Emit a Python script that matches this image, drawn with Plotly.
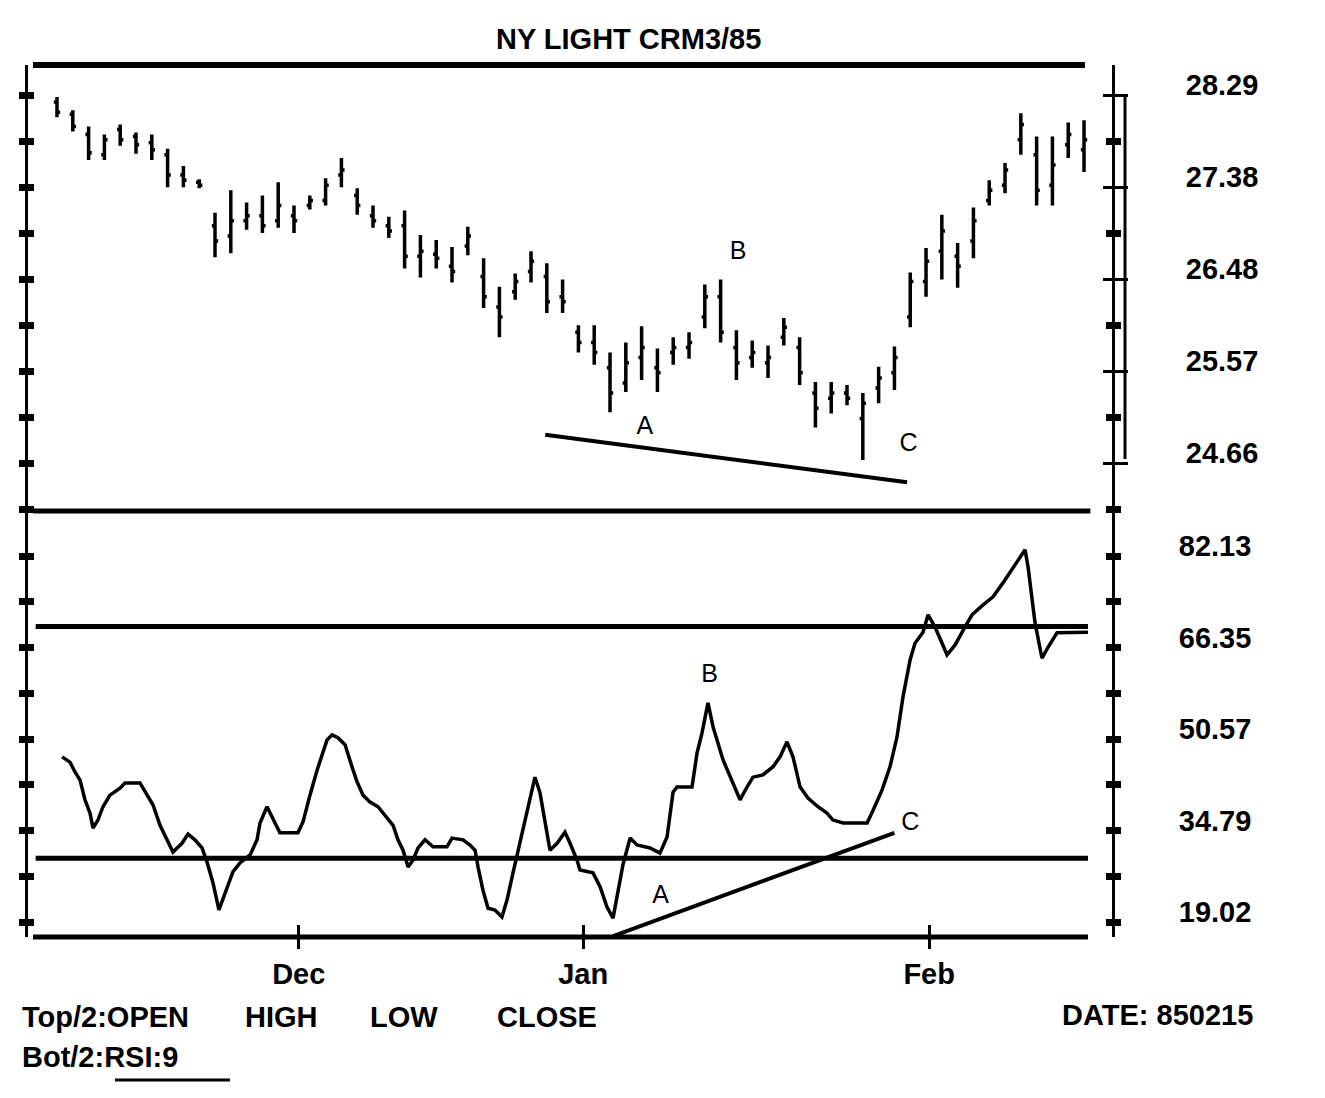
import plotly.graph_objects as go

TITLE = "NY LIGHT CRM3/85"

# ---- daily price bars (trading-day index 0..65) ----
HIGH = [28.27, 28.14, 27.98, 27.90, 28.00, 27.92, 27.90, 27.76, 27.59, 27.46,
        27.13, 27.35, 27.23, 27.30, 27.43, 27.20, 27.30, 27.47, 27.67, 27.37,
        27.20, 27.09, 27.15, 26.91, 26.86, 26.79, 26.99, 26.68, 26.40, 26.53,
        26.75, 26.63, 26.47, 26.02, 26.02, 25.75, 25.85, 26.01, 25.79, 25.90,
        25.95, 26.42, 26.47, 25.97, 25.87, 25.82, 26.09, 25.90, 25.46, 25.46,
        25.43, 25.35, 25.61, 25.81, 26.54, 26.78, 27.11, 26.83, 27.18, 27.45,
        27.62, 28.11, 27.88, 27.88, 28.02, 28.04]
LOW = [28.07, 27.93, 27.65, 27.65, 27.79, 27.71, 27.65, 27.38, 27.38, 27.37,
       26.69, 26.73, 26.96, 26.93, 26.98, 26.93, 27.16, 27.20, 27.38, 27.11,
       26.98, 26.88, 26.58, 26.49, 26.58, 26.44, 26.71, 26.19, 25.90, 26.27,
       26.44, 26.14, 26.14, 25.75, 25.63, 25.16, 25.36, 25.48, 25.36, 25.63,
       25.69, 25.99, 25.85, 25.48, 25.60, 25.50, 25.82, 25.43, 25.01, 25.15,
       25.23, 24.69, 25.25, 25.38, 26.00, 26.30, 26.47, 26.39, 26.68, 27.20,
       27.32, 27.70, 27.20, 27.20, 27.67, 27.53]
OPEN = [28.22, 28.10, 27.90, 27.70, 27.95, 27.88, 27.82, 27.70, 27.50, 27.43,
        27.00, 26.90, 27.05, 27.10, 27.05, 27.10, 27.20, 27.25, 27.50, 27.30,
        27.10, 27.00, 27.00, 26.70, 26.72, 26.60, 26.80, 26.50, 26.20, 26.35,
        26.55, 26.50, 26.30, 25.95, 25.85, 25.60, 25.45, 25.70, 25.60, 25.75,
        25.80, 26.10, 26.30, 25.80, 25.70, 25.65, 25.90, 25.80, 25.35, 25.30,
        25.35, 25.10, 25.40, 25.55, 26.10, 26.45, 26.75, 26.70, 26.85, 27.25,
        27.40, 27.85, 27.70, 27.40, 27.80, 27.75]
CLOSE = [28.12, 27.98, 27.72, 27.85, 27.85, 27.80, 27.75, 27.50, 27.45, 27.40,
         26.85, 27.05, 27.10, 27.00, 27.20, 27.05, 27.25, 27.40, 27.55, 27.20,
         27.05, 26.95, 26.70, 26.75, 26.68, 26.55, 26.90, 26.30, 26.10, 26.45,
         26.65, 26.25, 26.25, 25.85, 25.75, 25.35, 25.65, 25.80, 25.55, 25.80,
         25.85, 26.30, 25.95, 25.65, 25.75, 25.70, 26.00, 25.55, 25.20, 25.35,
         25.30, 25.25, 25.50, 25.70, 26.45, 26.65, 26.95, 26.60, 27.05, 27.35,
         27.55, 28.00, 27.35, 27.60, 27.90, 27.85]
BAR_X = list(range(len(HIGH)))

# ---- RSI(9) line (x in trading-day units) ----
RSI_X = [0.32, 0.82, 1.14, 1.46, 1.77, 2.09, 2.28, 2.59, 2.91, 3.35, 3.99, 4.30,
         5.25, 5.70, 6.08, 6.52, 6.96, 7.34, 7.91, 8.29, 8.73, 9.18, 9.49, 9.87,
         10.25, 10.63, 11.14, 11.58, 12.22, 12.66, 12.85, 13.29, 13.67, 14.11,
         15.25, 15.57, 16.01, 16.46, 17.09, 17.41, 17.78, 18.23, 18.67, 18.99,
         19.37, 19.81, 20.32, 20.89, 21.27, 21.58, 21.90, 22.22, 22.53, 22.85,
         23.29, 23.80, 24.68, 25.00, 25.70, 26.14, 26.46, 26.65, 26.96, 27.28,
         27.72, 28.16, 28.48, 28.86, 29.18, 29.49, 29.94, 30.25, 30.57, 30.89,
         31.20, 31.65, 32.15, 32.47, 32.91, 33.10, 33.92, 34.37, 34.81, 35.19,
         35.51, 35.82, 36.27, 36.71, 37.53, 38.16, 38.61, 38.99, 39.24, 40.19,
         40.51, 40.82, 41.20, 41.52, 42.15, 42.78, 43.23, 43.67, 44.05, 44.68,
         45.32, 45.76, 46.20, 46.58, 47.03, 47.53, 48.16, 48.73, 49.11, 49.75,
         51.27, 51.65, 52.22, 52.72, 53.16, 53.54, 53.99, 54.30, 54.81, 55.13,
         55.57, 56.33, 56.84, 57.47, 57.91, 58.61, 59.24, 59.87, 60.51, 61.27,
         61.46, 61.71, 61.90, 62.34, 62.72, 63.29, 65.25]
RSI_Y = [47.5, 46.6, 44.9, 43.5, 40.1, 37.8, 35.2, 36.6, 38.9, 40.9, 42.1, 43.0,
         43.0, 40.9, 39.2, 35.7, 33.2, 31.1, 32.6, 34.2, 33.2, 31.8, 29.4, 25.8,
         21.1, 24.0, 27.7, 29.2, 30.6, 33.2, 36.1, 38.9, 36.9, 34.4,
         34.4, 36.3, 40.9, 45.2, 50.4, 51.3, 50.8, 49.6, 45.8, 43.2,
         40.9, 39.7, 38.9, 37.1, 35.7, 33.2, 31.4, 28.5, 29.7, 31.8,
         33.2, 32.0, 32.0, 33.5, 33.2, 32.3, 31.4, 28.5, 24.5, 21.4,
         21.1, 19.9, 22.8, 27.5, 31.4, 35.4, 40.6, 44.0, 41.3, 36.1,
         31.4, 32.6, 34.5, 32.6, 29.7, 28.0, 27.5, 25.1, 21.6, 19.7,
         24.0, 28.9, 33.5, 32.3, 31.8, 30.9, 33.7, 41.4, 42.3, 42.3,
         48.2, 51.6, 56.8, 52.7, 47.0, 43.0, 40.1, 42.3, 44.0, 44.4,
         45.8, 47.5, 50.1, 47.5, 42.3, 40.4, 38.9, 37.8, 36.6, 36.1,
         36.1, 38.3, 41.8, 45.8, 50.9, 57.8, 64.2, 67.1, 69.0, 72.0,
         69.9, 65.1, 66.8, 69.9, 72.0, 73.7, 75.1, 77.5, 80.2, 83.2,
         80.2, 74.5, 70.6, 64.5, 66.4, 68.9, 69.0]
RSI_LEVELS = [70, 30]

# ---- trend lines and labels ----
PRICE_TREND_X = [30.9, 53.8]
PRICE_TREND_Y = [24.94, 24.47]
RSI_TREND_X = [35.2, 53.0]
RSI_TREND_Y = [16.6, 34.4]
PRICE_LABEL_TEXT = ["A", "B", "C"]
PRICE_LABEL_X = [37.2, 43.1, 53.9]
PRICE_LABEL_Y = [25.01, 26.73, 24.84]
RSI_LABEL_TEXT = ["A", "B", "C"]
RSI_LABEL_X = [38.2, 41.3, 54.0]
RSI_LABEL_Y = [23.3, 61.4, 35.9]

# ---- axes ----
MONTH_TICKS = [15.3, 33.3, 55.2]
MONTH_LABELS = ["Dec", "Jan", "Feb"]
PRICE_TICKS = [28.29, 27.3825, 26.475, 25.5675, 24.66]
PRICE_LABELS = ["28.29", "27.38", "26.48", "25.57", "24.66"]
PRICE_MINOR = [27.836, 26.929, 26.021, 25.114, 24.206]
RSI_TICKS = [82.13, 74.24, 66.35, 58.46, 50.57, 42.68, 34.79, 26.90, 19.02]
RSI_LABELS = ["82.13", "", "66.35", "", "50.57", "", "34.79", "", "19.02"]

X_RANGE = [-1.835, 66.77]
PRICE_RANGE = [24.187, 28.586]
RSI_RANGE = [16.44, 89.89]
SPLIT = 0.4885

BIG = dict(family="Liberation Sans, Arial, sans-serif", size=29, color="black", weight="bold")
LET = dict(family="Liberation Sans, Arial, sans-serif", size=25, color="black")

fig = go.Figure()
fig.add_trace(go.Ohlc(x=BAR_X, open=OPEN, high=HIGH, low=LOW, close=CLOSE,
                      xaxis="x", yaxis="y", tickwidth=0.2,
                      increasing=dict(line=dict(color="black", width=3.5)),
                      decreasing=dict(line=dict(color="black", width=3.5)),
                      showlegend=False, hoverinfo="skip"))
fig.add_trace(go.Scatter(x=RSI_X, y=RSI_Y, xaxis="x2", yaxis="y2", mode="lines",
                         line=dict(color="black", width=3.5), showlegend=False))
fig.add_trace(go.Scatter(x=PRICE_TREND_X, y=PRICE_TREND_Y, xaxis="x", yaxis="y", mode="lines",
                         line=dict(color="black", width=4), showlegend=False))
fig.add_trace(go.Scatter(x=RSI_TREND_X, y=RSI_TREND_Y, xaxis="x2", yaxis="y2", mode="lines",
                         line=dict(color="black", width=4), showlegend=False))
fig.add_trace(go.Scatter(x=PRICE_LABEL_X, y=PRICE_LABEL_Y, text=PRICE_LABEL_TEXT, mode="text",
                         xaxis="x", yaxis="y", textfont=LET, showlegend=False))
fig.add_trace(go.Scatter(x=RSI_LABEL_X, y=RSI_LABEL_Y, text=RSI_LABEL_TEXT, mode="text",
                         xaxis="x2", yaxis="y2", textfont=LET, showlegend=False))
# placeholder traces so overlay axes get drawn
for xa, ya in [("x", "y3"), ("x", "y5"), ("x", "y6"), ("x2", "y4"), ("x2", "y7"),
               ("x2", "y8"), ("x3", "y2")]:
    fig.add_trace(go.Scatter(x=[None], y=[None], xaxis=xa, yaxis=ya, showlegend=False,
                             hoverinfo="skip"))

common = dict(showgrid=False, zeroline=False, fixedrange=True, tickcolor="black")

def dot_axis(rng, vals, side, ticks, overlay=None, domain=None, anchor="x", line=False,
             labels=None, ticklen=6, tickwidth=7, minor=None):
    d = dict(common, range=rng, tickmode="array", tickvals=vals, side=side, ticks=ticks,
             ticklen=ticklen, tickwidth=tickwidth, anchor=anchor,
             showline=line, linecolor="black", linewidth=3)
    if overlay:
        d["overlaying"] = overlay
    if domain:
        d["domain"] = domain
    if labels:
        d.update(ticktext=labels, showticklabels=True, tickfont=BIG,
                 ticklabelstandoff=52, ticklabelshift=-10)
    else:
        d["showticklabels"] = False
    if minor:
        d["minor"] = minor
    return d

PRICE_ALL = sorted(PRICE_TICKS + PRICE_MINOR, reverse=True)

fig.update_layout(
    width=1317, height=1090,
    paper_bgcolor="white", plot_bgcolor="white",
    margin=dict(l=20, r=213, t=57, b=161),
    showlegend=False,
    xaxis=dict(common, domain=[0, 1], range=X_RANGE, anchor="y", visible=False,
               rangeslider=dict(visible=False)),
    xaxis2=dict(common, domain=[0, 1], range=X_RANGE, anchor="y2", tickmode="array",
                tickvals=MONTH_TICKS, ticktext=MONTH_LABELS, ticks="outside", ticklen=11,
                tickwidth=3, showline=False, tickfont=BIG),
    xaxis3=dict(common, overlaying="x2", range=X_RANGE, anchor="y2", side="bottom",
                tickmode="array", tickvals=MONTH_TICKS, ticks="inside", ticklen=12,
                tickwidth=3, showticklabels=False, showline=False),
    yaxis=dot_axis(PRICE_RANGE, PRICE_ALL, "left", "outside", domain=[SPLIT, 1], line=True),
    yaxis3=dot_axis(PRICE_RANGE, PRICE_ALL, "left", "inside", overlay="y"),
    yaxis5=dot_axis(PRICE_RANGE, PRICE_TICKS, "right", "outside", overlay="y", line=True,
                    labels=PRICE_LABELS, ticklen=13, tickwidth=3,
                    minor=dict(tickmode="array", tickvals=PRICE_MINOR, ticks="outside",
                               ticklen=6, tickwidth=7, tickcolor="black")),
    yaxis6=dot_axis(PRICE_RANGE, PRICE_TICKS, "right", "inside", overlay="y",
                    ticklen=9, tickwidth=3,
                    minor=dict(tickmode="array", tickvals=PRICE_MINOR, ticks="inside",
                               ticklen=6, tickwidth=7, tickcolor="black")),
    yaxis2=dot_axis(RSI_RANGE, RSI_TICKS, "left", "outside", domain=[0, SPLIT],
                    anchor="x2", line=True),
    yaxis4=dot_axis(RSI_RANGE, RSI_TICKS, "left", "inside", overlay="y2", anchor="x2"),
    yaxis7=dot_axis(RSI_RANGE, RSI_TICKS, "right", "outside", overlay="y2", anchor="x2",
                    line=True, labels=RSI_LABELS),
    yaxis8=dot_axis(RSI_RANGE, RSI_TICKS, "right", "inside", overlay="y2", anchor="x2"),
)

# heavy horizontal rules of the two panels
fig.add_shape(type="line", xref="x", yref="y domain", x0=-1.52, x1=65.06, y0=1, y1=1,
              line=dict(color="black", width=6))
fig.add_shape(type="line", xref="x", yref="y domain", x0=-1.52, x1=65.4, y0=0, y1=0,
              line=dict(color="black", width=5))
for lvl in RSI_LEVELS:
    fig.add_shape(type="line", xref="x2", yref="y2", x0=-1.35, x1=65.25, y0=lvl, y1=lvl,
                  line=dict(color="black", width=5))
fig.add_shape(type="line", xref="x2", yref="y2 domain", x0=-1.52, x1=65.25, y0=0, y1=0,
              line=dict(color="black", width=5))
# scale bracket on the right of the price panel
fig.add_shape(type="line", xref="paper", yref="y", x0=1.012, x1=1.012,
              y0=PRICE_TICKS[0], y1=PRICE_TICKS[-1] + 0.04, line=dict(color="black", width=3))

# title and footer texts
fig.add_annotation(text=TITLE, xref="paper", yref="paper", x=0.5544, y=1.0298,
                   xanchor="center", yanchor="middle", showarrow=False, font=BIG)
footer = [("Top/2:OPEN", -0.0074, -0.0917), ("HIGH", 0.1983, -0.0917),
          ("LOW", 0.3137, -0.0917), ("CLOSE", 0.4308, -0.0917),
          ("Bot/2:RSI:9", -0.0074, -0.1376), ("DATE: 850215", 0.952, -0.0894)]
for txt, fx, fy in footer:
    fig.add_annotation(text=txt, xref="paper", yref="paper", x=fx, y=fy,
                       xanchor="left", yanchor="middle", showarrow=False, font=BIG)
fig.add_shape(type="line", xref="paper", yref="paper", x0=0.0803, x1=0.1863,
              y0=-0.164, y1=-0.164, line=dict(color="black", width=3))

fig.write_html("out.html")
